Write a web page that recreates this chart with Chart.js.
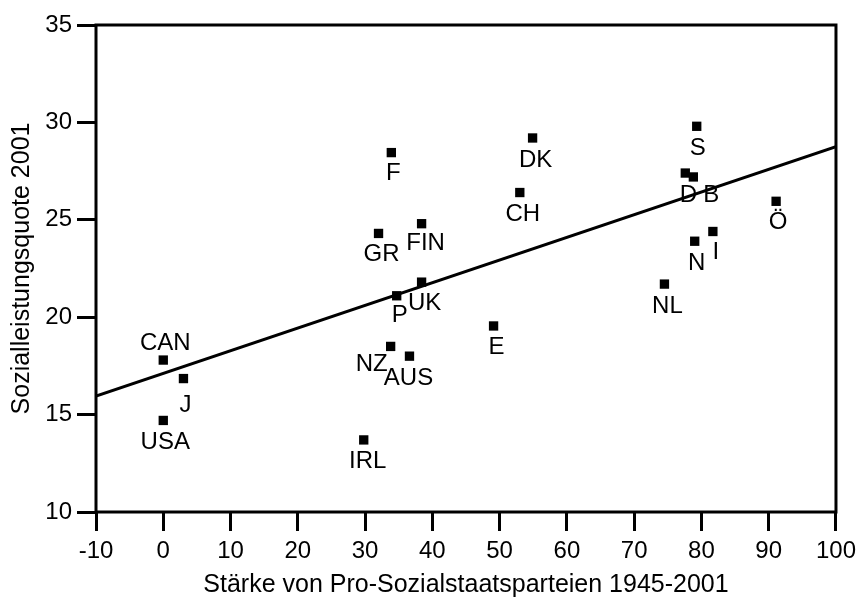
<!DOCTYPE html>
<html>
<head>
<meta charset="utf-8">
<script src="https://cdn.jsdelivr.net/npm/chart.js@4"></script>
<style>
  body { margin: 0; background: #fff; }
  canvas { display: block; }
</style>
</head>
<body>
<canvas id="myChart" width="862" height="598"></canvas>
<script>
const countries = ["CAN", "J", "USA", "IRL", "F", "GR", "FIN", "UK", "P", "NZ", "AUS",
  "E", "CH", "DK", "NL", "D", "B", "S", "N", "I", "Ö"];
const strength = [0, 3, 0, 29.8, 33.9, 32, 38.4, 38.4, 34.7, 33.8, 36.6,
  49.1, 53, 54.9, 74.5, 77.6, 78.8, 79.3, 79, 81.7, 91.1];
const quote = [17.8, 16.85, 14.7, 13.7, 28.45, 24.3, 24.8, 21.8, 21.1, 18.5, 18,
  19.55, 26.4, 29.2, 21.7, 27.4, 27.2, 29.8, 23.9, 24.4, 25.95];
const fitX = [-10, 100];
const fitY = [15.95, 28.75];

// label offsets in px from the marker (dx, dy)
const labelOffsets = [[2, -17], [2, 27], [2, 22], [4, 21], [2, 21], [3, 21], [4, 20],
  [3, 21], [3, 20], [-19, 18], [-1, 22], [3, 21], [3, 22], [3, 22], [3, 22], [3, 22],
  [18, 18], [1, 22], [2, 22], [3, 21], [2, 21]];

const FONT = "'Liberation Sans', Arial, sans-serif";

const boxAndLabels = {
  id: "boxAndLabels",
  afterDatasetsDraw: function (chart) {
    const ctx = chart.ctx;
    const meta = chart.getDatasetMeta(0);
    ctx.save();
    ctx.fillStyle = "#000";
    ctx.font = "24px " + FONT;
    ctx.textAlign = "center";
    ctx.textBaseline = "middle";
    meta.data.forEach(function (el, i) {
      ctx.fillText(countries[i], el.x + labelOffsets[i][0], el.y + labelOffsets[i][1]);
    });
    const a = chart.chartArea;
    ctx.lineWidth = 3;
    ctx.strokeStyle = "#000";
    ctx.strokeRect(a.left, a.top, a.right - a.left, a.bottom - a.top);
    ctx.restore();
  },
};

const ctx = document.getElementById("myChart").getContext("2d");

new Chart(ctx, {
  type: "scatter",
  data: {
    datasets: [
      {
        data: strength.map((v, i) => ({ x: v, y: quote[i] })),
        pointStyle: "rect",
        pointRadius: 6.6,
        pointBackgroundColor: "#000",
        pointBorderWidth: 0,
      },
      {
        type: "line",
        data: fitX.map((v, i) => ({ x: v, y: fitY[i] })),
        borderColor: "#000",
        borderWidth: 3,
        pointRadius: 0,
        fill: false,
      },
    ],
  },
  options: {
    responsive: false,
    animation: false,
    layout: { padding: { top: 25, right: 25, left: 0, bottom: 0 } },
    plugins: { legend: { display: false }, tooltip: { enabled: false } },
    scales: {
      x: {
        type: "linear",
        min: -10,
        max: 100,
        afterFit: (s) => { s.height = 86; },
        ticks: { stepSize: 10, color: "#000", padding: 6, font: { family: FONT, size: 24 } },
        grid: { drawOnChartArea: false, tickLength: 19, tickWidth: 3, tickColor: "#000" },
        border: { display: false },
        title: {
          display: true,
          text: "Stärke von Pro-Sozialstaatsparteien 1945-2001",
          color: "#000",
          padding: 0,
          font: { family: FONT, size: 25, lineHeight: 1 },
        },
      },
      y: {
        min: 10,
        max: 35,
        afterFit: (s) => { s.width = 96; },
        ticks: { stepSize: 5, color: "#000", padding: 5, font: { family: FONT, size: 24 } },
        grid: { drawOnChartArea: false, tickLength: 19, tickWidth: 3, tickColor: "#000" },
        border: { display: false },
        title: {
          display: true,
          text: "Sozialleistungsquote 2001",
          color: "#000",
          padding: { top: 10, bottom: 0 },
          font: { family: FONT, size: 25, lineHeight: 1 },
        },
      },
    },
  },
  plugins: [boxAndLabels],
});
</script>
</body>
</html>
